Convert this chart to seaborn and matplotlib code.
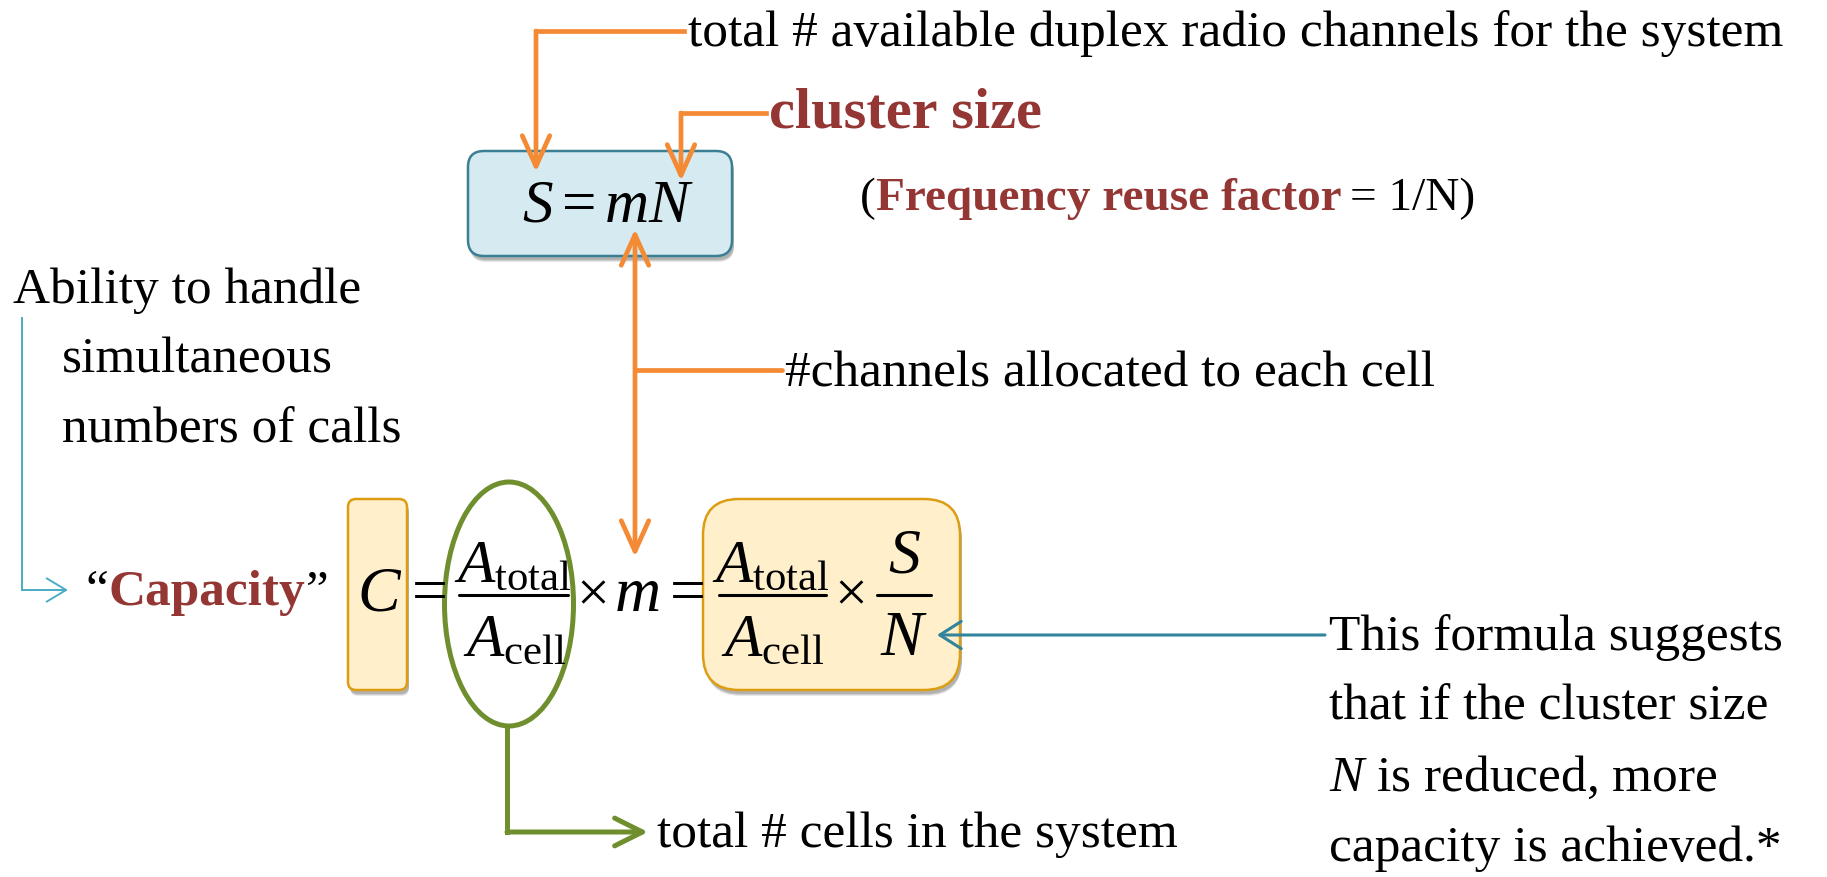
import matplotlib.pyplot as plt
import matplotlib.patches as mpatches
import seaborn as sns

# ---- texts of the diagram ----
top_label = "total # available duplex radio channels for the system"
cluster_label = "cluster size"
reuse_runs = ["(", "Frequency reuse factor", "= 1/N)"]
ability_lines = ["Ability to handle", "simultaneous", "numbers of calls"]
capacity_runs = ["\u201c", "Capacity", "\u201d"]
channels_label = "#channels allocated to each cell"
cells_label = "total # cells in the system"
note_lines = ["This formula suggests", "that if the cluster size",
              r"$N$ is reduced, more", "capacity is achieved.*"]

eq_top = r"$S = mN$"
num_label = r"$A_{\mathrm{total}}$"
den_label = r"$A_{\mathrm{cell}}$"

# colours
orange = "#f58a35"
red = "#943634"
green = "#6f8f2f"
teal_light = "#4bacc6"
teal_dark = "#31849b"
blue_fill, blue_edge = "#d6ebf1", "#3a7f93"
yel_fill, yel_edge = "#fff0cb", "#dc9d12"

sns.set_theme(style="white")
plt.rcParams["font.family"] = ["Liberation Serif", "DejaVu Serif"]
plt.rcParams["text.color"] = "black"
plt.rcParams["mathtext.fontset"] = "custom"
plt.rcParams["mathtext.rm"] = "Liberation Serif"
plt.rcParams["mathtext.it"] = "Liberation Serif:italic"
plt.rcParams["mathtext.bf"] = "Liberation Serif:bold"

fig = plt.figure(figsize=(18.27, 8.78), dpi=100)
ax = fig.add_axes([0, 0, 1, 1])
ax.set_xlim(0, 1827)
ax.set_ylim(878, 0)
ax.axis("off")
renderer = fig.canvas.get_renderer()


def rbox(x0, y0, x1, y1, rad, fc, ec):
    # soft shadow
    for i, a in enumerate([0.12, 0.15, 0.2]):
        ax.add_patch(mpatches.FancyBboxPatch(
            (x0 + 2, y0 + 4 + (2 - i)), x1 - x0, y1 - y0,
            boxstyle=f"round,pad=0,rounding_size={rad}",
            fc="#404040", ec="none", alpha=a, zorder=1))
    ax.add_patch(mpatches.FancyBboxPatch(
        (x0, y0), x1 - x0, y1 - y0, boxstyle=f"round,pad=0,rounding_size={rad}",
        fc=fc, ec=ec, lw=1.8, zorder=2))


def elbow(points, color, lw, ms=18, hl=1.0, hw=0.45, style="->"):
    xs = [p[0] for p in points]
    ys = [p[1] for p in points]
    if len(points) > 2:
        ax.plot(xs[:-1], ys[:-1], color=color, lw=lw, solid_capstyle="projecting",
                solid_joinstyle="miter", zorder=3)
    ax.annotate("", xy=points[-1], xytext=points[-2], zorder=3,
                arrowprops=dict(arrowstyle=f"{style},head_length={hl},head_width={hw}",
                                color=color, lw=lw, shrinkA=0, shrinkB=0,
                                mutation_scale=ms))


def runs(x, y, parts, styles, size, gaps):
    for s, st, g in zip(parts, styles, gaps):
        t = ax.text(x, y, s, fontsize=size, va="baseline", ha="left", zorder=4, **st)
        x += t.get_window_extent(renderer).width + g


# ---- boxes ----
rbox(468, 152, 732, 257, 16, blue_fill, blue_edge)
rbox(348, 500, 407, 691, 8, yel_fill, yel_edge)
rbox(703, 500, 960, 691, 36, yel_fill, yel_edge)
ax.add_patch(mpatches.Ellipse((509, 605), 129, 244, fc="white", ec=green, lw=3.6, zorder=2))

# ---- arrows ----
elbow([(684, 32), (536, 32), (536, 173)], orange, 3.4, ms=22)
elbow([(766, 114), (681, 114), (681, 182)], orange, 3.4, ms=22)
elbow([(635, 558), (635, 230)], orange, 3.4, ms=22, style="<->")
ax.plot([635, 782], [371, 371], color=orange, lw=3.4, zorder=3)
elbow([(507, 728), (507, 833), (648, 833)], green, 3.6, ms=20, hl=1.0, hw=0.5)
elbow([(22, 319), (22, 591), (68, 591)], teal_light, 1.4, ms=14, hl=1.0, hw=0.6)
elbow([(1325, 636), (937, 636)], teal_dark, 2.2, ms=14, hl=1.1, hw=0.7)

# ---- text labels ----
body = 37
ax.text(688, 46, top_label, fontsize=body, va="baseline")
ax.text(769, 128, cluster_label, fontsize=42, fontweight="bold", va="baseline", color=red)
runs(860, 210, reuse_runs,
     [dict(color="black"), dict(color=red, fontweight="bold"), dict(color="black")],
     34, [0, 9, 0])
for x, y, line in zip([13, 62, 62], [303, 373, 443], ability_lines):
    ax.text(x, y, line, fontsize=body, va="baseline")
runs(86, 605, capacity_runs,
     [dict(color="black"), dict(color=red, fontweight="bold"), dict(color="black")],
     body, [0, 0, 0])
ax.text(785, 387, channels_label, fontsize=body, va="baseline")
ax.text(657, 847, cells_label, fontsize=body, va="baseline")
for y, line in zip([650, 720, 791, 861], note_lines):
    ax.text(1329, y, line, fontsize=body, va="baseline")

# ---- formulas ----
ax.text(608, 222, eq_top, fontsize=44, ha="center", va="baseline", zorder=4)
ax.text(380, 611, r"$C$", fontsize=46, ha="center", va="baseline", zorder=4)
ax.text(430, 611, "=", fontsize=46, ha="center", va="baseline", zorder=4)
for cx, x0, x1 in [(513, 459, 568), (771, 719, 826)]:
    ax.text(cx, 582, num_label, fontsize=44, ha="center", va="baseline", zorder=4)
    ax.text(cx + 2, 656, den_label, fontsize=44, ha="center", va="baseline", zorder=4)
    ax.plot([x0, x1], [596, 596], color="black", lw=2.2, zorder=4)
ax.text(593, 611, "\u00d7", fontsize=42, ha="center", va="baseline", zorder=4)
ax.text(637, 611, r"$m$", fontsize=46, ha="center", va="baseline", zorder=4)
ax.text(688, 611, "=", fontsize=46, ha="center", va="baseline", zorder=4)
ax.text(851, 611, "\u00d7", fontsize=42, ha="center", va="baseline", zorder=4)
ax.text(904, 573, r"$S$", fontsize=46, ha="center", va="baseline", zorder=4)
ax.text(904, 655, r"$N$", fontsize=46, ha="center", va="baseline", zorder=4)
ax.plot([877, 931], [596, 596], color="black", lw=2.2, zorder=4)

fig.savefig("out.png", dpi=100)
